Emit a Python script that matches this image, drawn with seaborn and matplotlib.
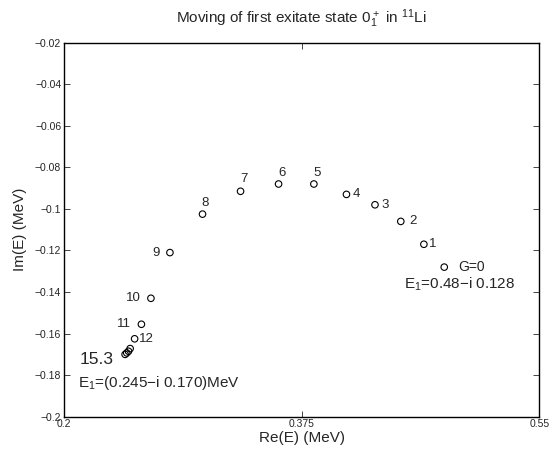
import numpy as np
import pandas as pd
import matplotlib
matplotlib.use("Agg")
import matplotlib.pyplot as plt
import seaborn as sns

# trayectoria del estado 0+ (Re, Im) para cada G
re_e = [0.480, 0.465, 0.448, 0.429, 0.408, 0.384, 0.358, 0.330, 0.302,
        0.278, 0.264, 0.257, 0.252, 0.2487, 0.2475, 0.2462, 0.245]
im_e = [-0.128, -0.117, -0.106, -0.098, -0.093, -0.088, -0.088, -0.0915, -0.1025,
        -0.121, -0.143, -0.1555, -0.1625, -0.1672, -0.1685, -0.1693, -0.170]
g_labels = ["G=0", "1", "2", "3", "4", "5", "6", "7", "8",
            "9", "10", "11", "12", "", "", "", "15.3"]

x_ticks = [0.2, 0.375, 0.55]
x_ticklabels = ["0.2", "0.375", "0.55"]
y_ticks = [-0.02, -0.04, -0.06, -0.08, -0.1, -0.12, -0.14, -0.16, -0.18, -0.2]
y_ticklabels = ["\u22120.02", "\u22120.04", "\u22120.06", "\u22120.08", "\u22120.1",
                "\u22120.12", "\u22120.14", "\u22120.16", "\u22120.18", "\u22120.2"]

df = pd.DataFrame({"re": re_e, "im": im_e, "lab": g_labels})

sns.set_style("ticks")
plt.rcParams["font.family"] = ["Liberation Sans", "DejaVu Sans"]
plt.rcParams["mathtext.fontset"] = "custom"
plt.rcParams["mathtext.rm"] = "Liberation Sans"
plt.rcParams["mathtext.default"] = "regular"

fig = plt.figure(figsize=(5.58, 4.53), dpi=100)
ax = fig.add_axes([0.1147, 0.0801, 0.8518, 0.8256])

sns.scatterplot(data=df, x="re", y="im", ax=ax, marker="o", s=22,
                facecolor="none", edgecolor="black", linewidth=0.8, legend=False)

# posicion de las etiquetas (pixeles respecto al punto)
offs = {"G=0": (14, 0, "left", 10), "1": (5, 0, "left", 9.5), "2": (9, 0, "left", 9.5),
        "3": (6, 0, "left", 9.5), "4": (6, 0, "left", 9.5),
        "5": (3, 11, "center", 9.5), "6": (3, 11, "center", 9.5),
        "7": (3, 12, "center", 9.5), "8": (3, 11, "center", 9.5),
        "9": (-10, 0, "right", 9.5), "10": (-10, 0, "right", 9.5),
        "11": (-10, 0, "right", 9.5), "12": (4, 0, "left", 9.5),
        "15.3": (-11, -5, "right", 12.5)}
for r, i, lab in zip(re_e, im_e, g_labels):
    if lab == "":
        continue
    dx, dy, ha, fs = offs[lab]
    ax.annotate(lab, (r, i), xytext=(dx, dy), textcoords="offset pixels",
                ha=ha, va="center", fontsize=fs)

ax.text(0.4504, -0.1361, "E$_1$=0.48\u2212i 0.128", ha="left", va="center", fontsize=11)
ax.text(0.2103, -0.1839, "E$_1$=(0.245\u2212i 0.170)MeV", ha="left", va="center", fontsize=11)

ax.set_xlim(0.2, 0.55)
ax.set_ylim(-0.2, -0.02)
ax.set_xticks(x_ticks)
ax.set_xticklabels(x_ticklabels)
ax.set_yticks(y_ticks)
ax.set_yticklabels(y_ticklabels)
ax.tick_params(direction="in", top=True, right=True, labelsize=7.5,
               length=4, width=0.6, pad=2)
for sp in ax.spines.values():
    sp.set_visible(True)
    sp.set_linewidth(1.0)
    sp.set_color("black")

ax.set_xlabel("Re(E) (MeV)", fontsize=11, labelpad=1)
ax.set_ylabel("Im(E) (MeV)", fontsize=11, labelpad=6)
ax.set_title("Moving of first exitate state $0_1^+$ in $^{11}$Li", fontsize=11, pad=14)

fig.savefig("out.png", dpi=100)
